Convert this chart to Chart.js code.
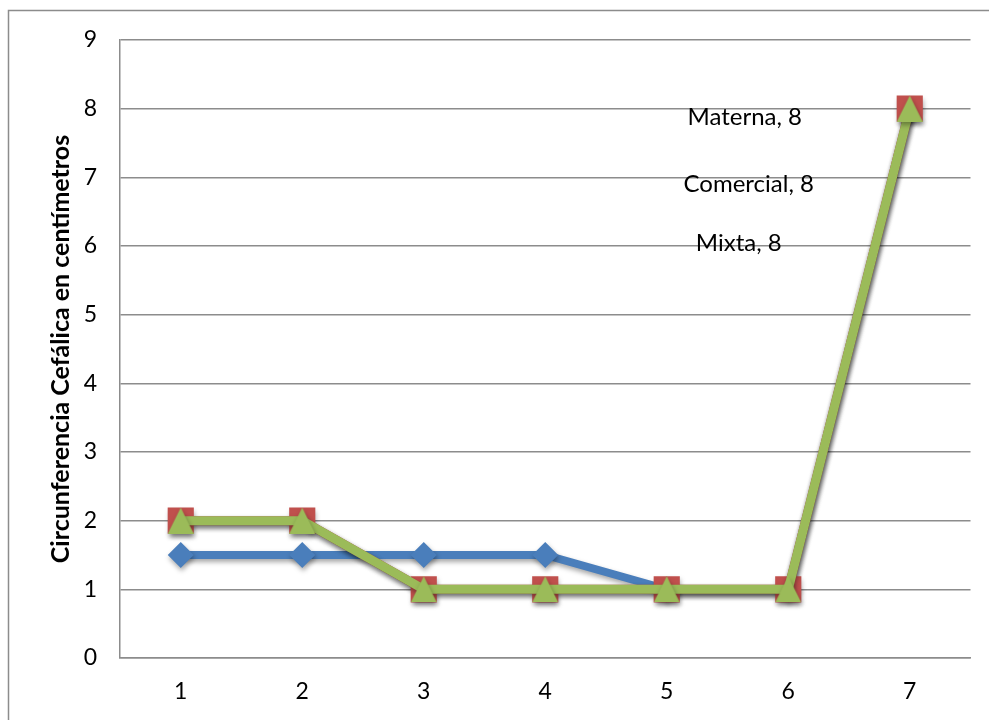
<!DOCTYPE html>
<html>
<head>
<meta charset="utf-8">
<script src="https://cdn.jsdelivr.net/npm/chart.js@4/dist/chart.umd.min.js"></script>
<style>
  html, body { margin: 0; padding: 0; background: #ffffff; }
  #wrap { width: 989px; height: 720px; position: relative; }
</style>
</head>
<body>
<div id="wrap"><canvas id="c" width="989" height="720"></canvas></div>
<script>
// Categories along the horizontal axis
const categories = ['1', '2', '3', '4', '5', '6', '7'];

// Series values
const materna   = [1.5, 1.5, 1.5, 1.5, 1, 1, 8];
const comercial = [2, 2, 1, 1, 1, 1, 8];
const mixta     = [2, 2, 1, 1, 1, 1, 8];

// Vertical axis range
const yTicks = [0, 1, 2, 3, 4, 5, 6, 7, 8, 9];

const FONT = "Lato, 'Open Sans', 'DejaVu Sans', sans-serif";
const GRID = '#8c8c8c';

// Triangle marker whose bounding box is centred on the point
function triangleMarker(size, color) {
  const c = document.createElement('canvas');
  c.width = size; c.height = size;
  const g = c.getContext('2d');
  g.fillStyle = color;
  g.beginPath();
  g.moveTo(size / 2, 0);
  g.lineTo(size, size);
  g.lineTo(0, size);
  g.closePath();
  g.fill();
  return c;
}

// Outer frame of the chart area
const framePlugin = {
  id: 'frame',
  beforeDraw(chart) {
    const ctx = chart.ctx;
    ctx.save();
    ctx.strokeStyle = '#8c8c8c';
    ctx.lineWidth = 1.5;
    ctx.strokeRect(8.5, 10.5, 1200, 900);
    ctx.restore();
  }
};

// Soft drop shadow under the series lines and markers
const shadowPlugin = {
  id: 'seriesShadow',
  beforeDatasetDraw(chart) {
    const ctx = chart.ctx;
    ctx.save();
    ctx.shadowColor = 'rgba(0,0,0,0.35)';
    ctx.shadowBlur = 5;
    ctx.shadowOffsetX = 1;
    ctx.shadowOffsetY = 3;
  },
  afterDatasetDraw(chart) {
    chart.ctx.restore();
  }
};

// "Series, value" labels for the last point of each series
const lastLabelOffsets = { 'Materna': [-165, 9], 'Comercial': [-161, 76], 'Mixta': [-171, 135] };
const valueLabelPlugin = {
  id: 'valueLabels',
  afterDatasetsDraw(chart) {
    const ctx = chart.ctx;
    ctx.save();
    ctx.font = '24px ' + FONT;
    ctx.fillStyle = '#000000';
    ctx.textAlign = 'center';
    ctx.textBaseline = 'middle';
    chart.data.datasets.forEach((ds, i) => {
      const meta = chart.getDatasetMeta(i);
      const last = ds.data.length - 1;
      const pt = meta.data[last];
      const off = lastLabelOffsets[ds.label];
      ctx.fillText(ds.label + ', ' + ds.data[last], pt.x + off[0], pt.y + off[1]);
    });
    ctx.restore();
  }
};

const base = {
  borderWidth: 9,
  pointBorderWidth: 0,
  tension: 0,
  fill: false
};

new Chart(document.getElementById('c'), {
  type: 'line',
  data: {
    labels: categories,
    datasets: [
      Object.assign({}, base, {
        label: 'Materna', data: materna, order: 3,
        borderColor: '#4a7ebb', backgroundColor: '#4a7ebb',
        pointStyle: 'rectRot', borderWidth: 8, pointRadius: 13, pointHoverRadius: 13
      }),
      Object.assign({}, base, {
        label: 'Comercial', data: comercial, order: 2,
        borderColor: '#c0504d', backgroundColor: '#c0504d',
        pointStyle: 'rect', pointRadius: 18.5, pointHoverRadius: 18.5
      }),
      Object.assign({}, base, {
        label: 'Mixta', data: mixta, order: 1,
        borderColor: '#9bbb59', backgroundColor: '#9bbb59',
        pointStyle: triangleMarker(26, '#9bbb59'), pointRadius: 13, pointHoverRadius: 13
      })
    ]
  },
  options: {
    responsive: false,
    animation: false,
    devicePixelRatio: 1,
    layout: { padding: { left: 46, top: 40, right: 16, bottom: 0 } },
    plugins: {
      legend: { display: false },
      tooltip: { enabled: false }
    },
    scales: {
      x: {
        offset: true,
        grid: { display: false, drawTicks: false, offset: true },
        border: { display: true, color: GRID, width: 1.5 },
        ticks: { color: '#000', font: { family: FONT, size: 23 }, padding: 20, maxRotation: 0 },
        afterFit(s) { s.height = 62; }
      },
      y: {
        min: 0, max: 9,
        afterBuildTicks(s) { s.ticks = yTicks.map(v => ({ value: v })); },
        grid: { color: GRID, lineWidth: 1.5, drawTicks: false },
        border: { display: true, color: GRID, width: 1.5 },
        ticks: { color: '#000', font: { family: FONT, size: 23 }, padding: 23 },
        title: {
          display: true,
          text: 'Circunferencia Cefálica en centímetros',
          color: '#000',
          font: { family: FONT, size: 25, weight: 'bold' },
          padding: { top: 0, bottom: 0 }
        },
        afterFit(s) { s.width = 74; }
      }
    }
  },
  plugins: [framePlugin, shadowPlugin, valueLabelPlugin]
});
</script>
</body>
</html>
